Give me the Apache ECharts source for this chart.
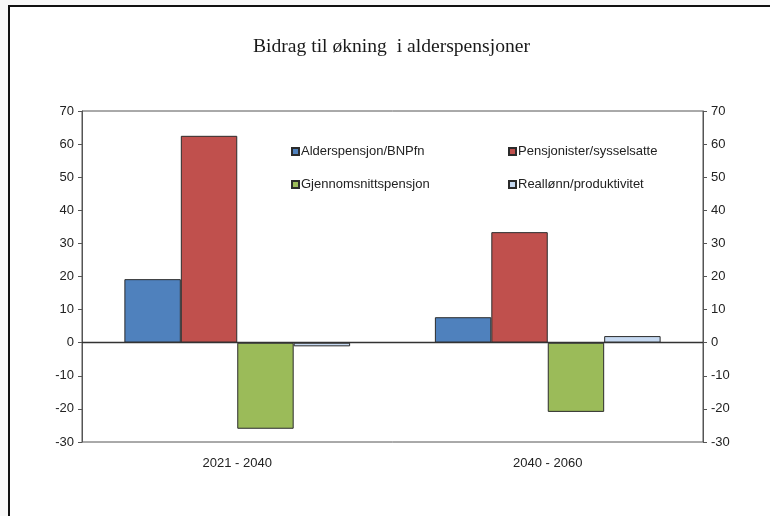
<!DOCTYPE html>
<html>
<head>
<meta charset="utf-8">
<script src="https://cdn.jsdelivr.net/npm/echarts@6/dist/echarts.min.js"></script>
<style>
  html, body { margin: 0; padding: 0; background: #f8f8f8; }
  #chart { width: 770px; height: 516px; }
</style>
</head>
<body>
<div id="chart"></div>
<script>
// Bidrag til økning i alderspensjoner, to perioder, fire komponenter
const perioder = ['2021 - 2040', '2040 - 2060'];
const alderspensjonBnp = [19.2, 7.7];
const pensjonisterSyss = [62.5, 33.4];
const gjennomsnittPensjon = [-26.0, -20.9];
const reallonnProd = [-1.1, 2.0];
const yTicks = { min: -30, max: 70, step: 10 };

const FONT = "'Liberation Sans Narrow', 'Liberation Sans', Arial, sans-serif";
const edge = { borderColor: '#2b2b2b', borderWidth: 1 };

function bar(name, data, color) {
  return { name: name, type: 'bar', data: data, barGap: 0, barCategoryGap: '27.3%',
           itemStyle: Object.assign({ color: color }, edge) };
}

const c = echarts.init(document.getElementById('chart'));
const yAxisBase = {
  type: 'value', min: yTicks.min, max: yTicks.max, interval: yTicks.step,
  axisLine: { show: true, lineStyle: { color: '#555', width: 1 } },
  axisTick: { show: true, length: 4, lineStyle: { color: '#555' } },
  axisLabel: { color: '#222', fontFamily: FONT, fontSize: 13, margin: 8 },
  splitLine: { show: false }
};
const series = [
  bar('Alderspensjon/BNPfn', alderspensjonBnp, '#4f81bd'),
  bar('Pensjonister/sysselsatte', pensjonisterSyss, '#c0504d'),
  bar('Gjennomsnittspensjon', gjennomsnittPensjon, '#9bbb59'),
  bar('Reallønn/produktivitet', reallonnProd, '#c6d9f1')
];
// nullinje
series[0].markLine = { silent: true, symbol: 'none', label: { show: false },
  lineStyle: { color: '#333', width: 1.3, type: 'solid' }, data: [{ yAxis: 0 }] };

const legendBase = {
  orient: 'vertical', top: 140, itemGap: 20, itemWidth: 7, itemHeight: 7,
  icon: 'rect', textStyle: { color: '#222', fontFamily: FONT, fontSize: 13, padding: [0, 0, 0, -3] },
  selectedMode: false
};

c.setOption({
  backgroundColor: 'transparent',
  animation: false,
  title: {
    text: 'Bidrag til økning  i alderspensjoner', left: 248, top: 32,
    textStyle: { fontFamily: "'Liberation Serif', 'Times New Roman', serif", fontWeight: 'normal', fontSize: 19.6, color: '#1a1a1a' }
  },
  legend: [
    Object.assign({}, legendBase, { left: 286, data: ['Alderspensjon/BNPfn', 'Gjennomsnittspensjon'] }),
    Object.assign({}, legendBase, { left: 503, data: ['Pensjonister/sysselsatte', 'Reallønn/produktivitet'] })
  ],
  grid: { left: 82, right: 67, top: 111, bottom: 74, show: true, borderColor: '#555', borderWidth: 1, backgroundColor: 'transparent' },
  xAxis: {
    type: 'category', data: perioder,
    axisLine: { show: true, lineStyle: { color: '#555' } },
    axisTick: { show: false },
    axisLabel: { color: '#222', fontFamily: FONT, fontSize: 13, margin: 15 }
  },
  yAxis: [
    Object.assign({}, yAxisBase, { position: 'left' }),
    Object.assign({}, yAxisBase, { position: 'right' })
  ],
  series: series,
  graphic: [
    { type: 'rect', silent: true, z: -10, shape: { x: 9, y: 6, width: 800, height: 600 },
      style: { fill: '#fff' } },
    { type: 'rect', silent: true, z: 100, shape: { x: 9, y: 6, width: 800, height: 600 },
      style: { fill: 'none', stroke: '#111', lineWidth: 2 } }
  ]
});
</script>
</body>
</html>
